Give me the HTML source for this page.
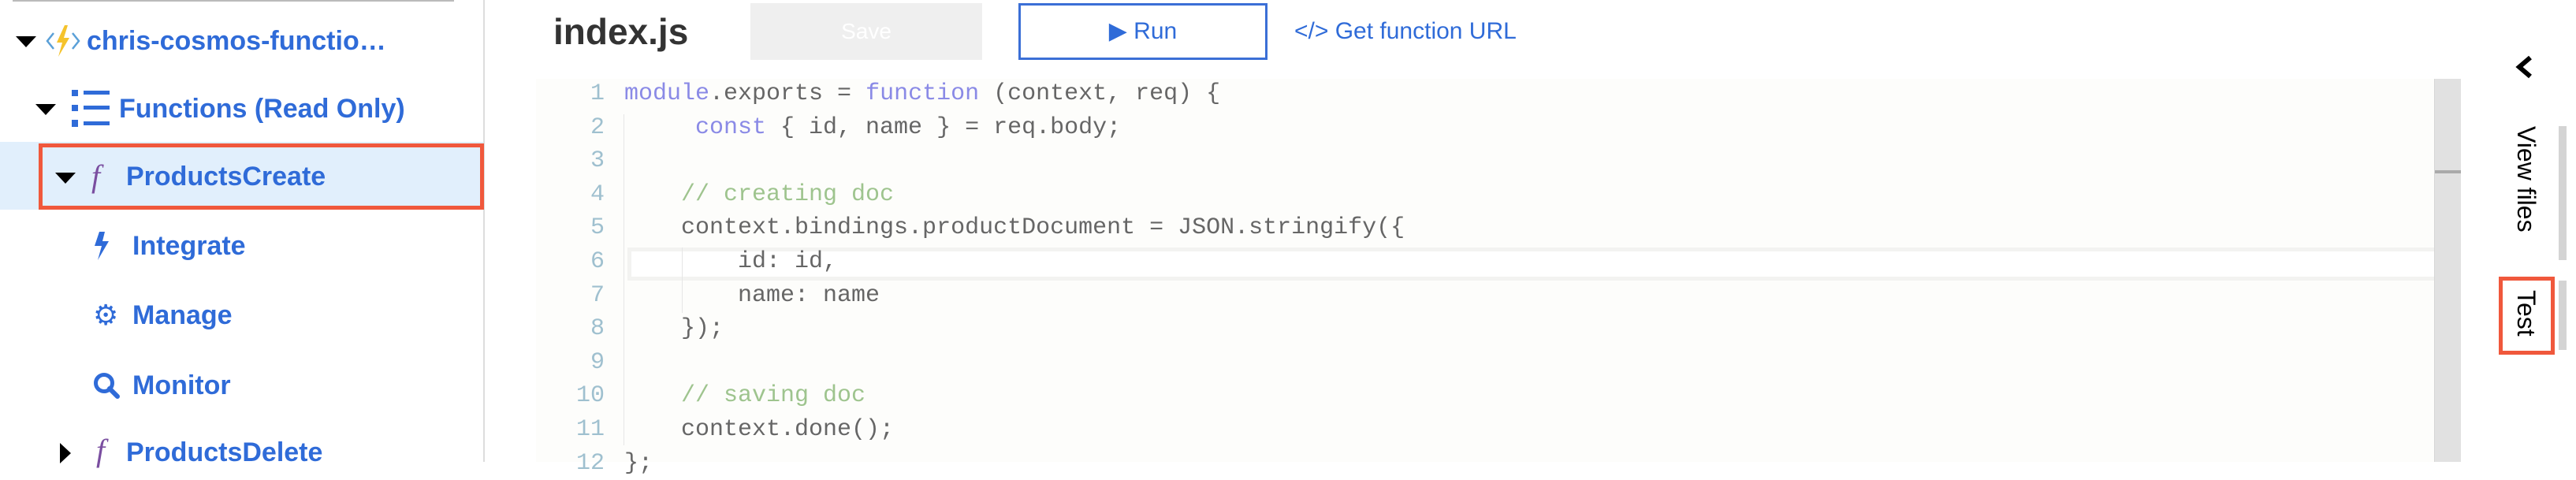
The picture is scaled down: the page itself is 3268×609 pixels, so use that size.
<!DOCTYPE html>
<html><head><meta charset="utf-8"><style>
*{margin:0;padding:0;box-sizing:border-box}
body{width:3268px;height:586px;overflow:hidden;background:#fff;position:relative;font-family:"Liberation Sans",sans-serif}
.a{position:absolute;white-space:nowrap}
.nav{font-weight:bold;color:#2f6bd8;font-size:34px;line-height:40px}
.tri{position:absolute;width:0;height:0;border-left:13px solid transparent;border-right:13px solid transparent;border-top:14px solid #000}
.code{font-family:"Liberation Mono",monospace;font-size:30px;line-height:42.6px;color:#666}
.ln{font-family:"Liberation Mono",monospace;font-size:30px;line-height:42.6px;color:#9fc0cf;text-align:right;width:100px}
.k{color:#8a8ae6}.c{color:#9ec48e}
</style></head><body>
<!-- sidebar -->
<div class="a" style="left:16px;top:0;width:560px;height:2px;background:#bbb"></div>
<div class="a" style="left:613px;top:0;width:2px;height:586px;background:#ddd"></div>
<div class="tri" style="left:20px;top:46px"></div>
<svg class="a" style="left:58px;top:30px" width="44" height="44" viewBox="0 0 44 44"><path d="M10 12 L2 22 L10 32" stroke="#5aa0d8" stroke-width="2.5" fill="none"/><path d="M34 12 L42 22 L34 32" stroke="#5aa0d8" stroke-width="2.5" fill="none"/><path d="M24 2 L14 24 L21 24 L16 42 L30 18 L23 18 L28 2Z" fill="#f5c32c"/></svg>
<div class="a nav" style="left:110px;top:32px">chris-cosmos-functio…</div>
<div class="tri" style="left:45px;top:132px"></div>
<svg class="a" style="left:91px;top:113px" width="50" height="50"><rect x="0" y="1" width="8" height="8" fill="#2f6bd8"/><rect x="0" y="20" width="8" height="8" fill="#2f6bd8"/><rect x="0" y="39" width="8" height="9" fill="#2f6bd8"/><rect x="15" y="2" width="33" height="5" fill="#2f6bd8"/><rect x="15" y="21" width="33" height="5" fill="#2f6bd8"/><rect x="15" y="41" width="33" height="5" fill="#2f6bd8"/></svg>
<div class="a nav" style="left:151px;top:118px">Functions (Read Only)</div>
<div class="a" style="left:0;top:180px;width:613px;height:86px;background:#e1effc"></div>
<div class="a" style="left:49px;top:182px;width:565px;height:84px;border:5px solid #f0583c"></div>
<div class="tri" style="left:70px;top:219px"></div>
<div class="a" style="left:116px;top:200px;font-family:'Liberation Serif',serif;font-style:italic;font-size:40px;color:#7a4ea0">f</div>
<div class="a nav" style="left:160px;top:204px">ProductsCreate</div>
<svg class="a" style="left:118px;top:294px" width="22" height="36"><path d="M8 0 L2 18 L11 18 L6 36 L20 12 L12 12 L15 0Z" fill="#2f6bd8"/></svg>
<div class="a nav" style="left:168px;top:292px">Integrate</div>
<div class="a" style="left:118px;top:378px;font-size:36px;color:#2f6bd8;line-height:44px">⚙</div>
<div class="a nav" style="left:168px;top:380px">Manage</div>
<svg class="a" style="left:118px;top:472px" width="36" height="36"><circle cx="14" cy="14" r="10.5" stroke="#2f6bd8" stroke-width="5" fill="none"/><path d="M21 21 L31 31" stroke="#2f6bd8" stroke-width="6" stroke-linecap="round"/></svg>
<div class="a nav" style="left:168px;top:469px">Monitor</div>
<div class="a" style="left:76px;top:562px;width:0;height:0;border-top:13px solid transparent;border-bottom:13px solid transparent;border-left:14px solid #000"></div>
<div class="a" style="left:122px;top:548px;font-family:'Liberation Serif',serif;font-style:italic;font-size:40px;color:#7a4ea0">f</div>
<div class="a nav" style="left:160px;top:554px">ProductsDelete</div>
<!-- top bar -->
<div class="a" style="left:702px;top:12px;font-size:46px;font-weight:bold;color:#333;line-height:56px">index.js</div>
<div class="a" style="left:952px;top:4px;width:294px;height:72px;background:#efefef;color:#fff;font-size:28px;text-align:center;line-height:72px">Save</div>
<div class="a" style="left:1292px;top:4px;width:316px;height:72px;border:3px solid #3b6fd6;color:#2f6bd8;font-size:30px;text-align:center;line-height:66px">▶ Run</div>
<div class="a" style="left:1642px;top:20px;color:#2f6bd8;font-size:30px;line-height:40px">&lt;/&gt; Get function URL</div>
<!-- code -->
<div class="a" style="left:680px;top:100px;width:2408px;height:486px;background:#fdfdfb"></div>
<div class="a" style="left:796px;top:314px;width:2322px;height:42px;background:#fff;border:5px solid #f3f3f1"></div>
<div class="a" style="left:791px;top:145px;width:1px;height:420px;background:#e6e6e6"></div>
<div class="a" style="left:865px;top:314px;width:1px;height:83px;background:#e6e6e6"></div>
<div class="a ln" style="left:667px;top:98px">1<br>2<br>3<br>4<br>5<br>6<br>7<br>8<br>9<br>10<br>11<br>12</div>
<div class="a code" style="left:792px;top:98px;white-space:pre"><span class="k">module</span>.exports = <span class="k">function</span> (context, req) {
     <span class="k">const</span> { id, name } = req.body;

    <span class="c">// creating doc</span>
    context.bindings.productDocument = JSON.stringify({
        id: id,
        name: name
    });

    <span class="c">// saving doc</span>
    context.done();
};</div>
<!-- scrollbar -->
<div class="a" style="left:3088px;top:100px;width:34px;height:486px;background:#e1e1e1;border-left:1px solid #d6d6d6"></div>
<div class="a" style="left:3089px;top:216px;width:33px;height:4px;background:#aaa"></div>
<!-- right rail -->
<svg class="a" style="left:3190px;top:70px" width="26" height="30"><path d="M20 3 L6 15 L20 27" stroke="#000" stroke-width="6" fill="none"/></svg>
<div class="a" style="left:3190px;top:160px;width:30px;height:160px"><div style="position:absolute;left:0;top:0;transform-origin:0 0;transform:translate(30px,0) rotate(90deg);font-size:32px;line-height:30px;color:#000">View files</div></div>
<div class="a" style="left:3246px;top:160px;width:10px;height:170px;background:#d4d4d4"></div>
<div class="a" style="left:3170px;top:351px;width:71px;height:99px;border:5px solid #f0583c"></div>
<div class="a" style="left:3190px;top:368px;width:30px;height:70px"><div style="position:absolute;left:0;top:0;transform-origin:0 0;transform:translate(30px,0) rotate(90deg);font-size:32px;line-height:30px;color:#000">Test</div></div>
<div class="a" style="left:3246px;top:356px;width:10px;height:88px;background:#d4d4d4"></div>
</body></html>
